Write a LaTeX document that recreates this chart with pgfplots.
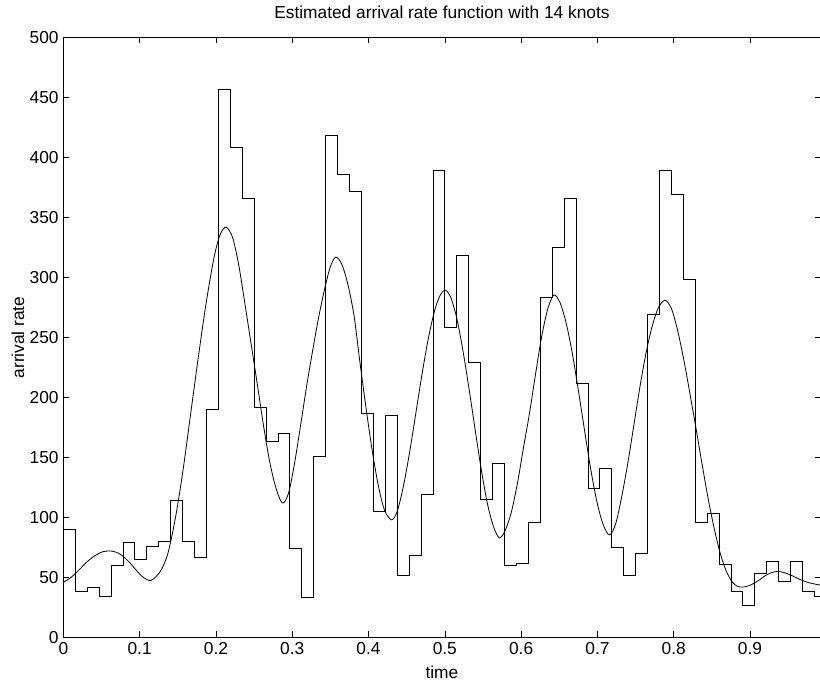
\documentclass[border=0pt]{standalone}
\usepackage{fontspec}
\setmainfont{Liberation Sans}
\usepackage{pgfplots}
\usepackage{pgfplotstable}
\pgfplotsset{compat=1.18}
\pgfplotstableread{
k y
0 90
1 38
2 42
3 34
4 60
5 79
6 65
7 76
8 80
9 114
10 80
11 67
12 190
13 457
14 408
15 366
16 192
17 163
18 170
19 74
20 33
21 151
22 418
23 386
24 372
25 187
26 105
27 185
28 52
29 68
30 119
31 389
32 258
33 318
34 229
35 115
36 145
37 60
38 62
39 96
40 283
41 325
42 366
43 212
44 124
45 141
46 75
47 52
48 70
49 269
50 389
51 369
52 298
53 96
54 103
55 61
56 38
57 27
58 53
59 63
60 47
61 63
62 38
63 34
64 34
}\bins
\begin{document}
\begin{tikzpicture}
\begin{axis}[
  at={(0,0)}, anchor=south west,
  scale only axis, width=567.9pt, height=450pt,
  xmin=0, xmax=0.9924, ymin=0, ymax=500,
  xtick={0,0.1,0.2,0.3,0.4,0.5,0.6,0.7,0.8,0.9},
  xticklabels={0,0.1,0.2,0.3,0.4,0.5,0.6,0.7,0.8,0.9},
  ytick={0,50,100,150,200,250,300,350,400,450,500},
  tick align=inside, major tick length=4.5pt,
  tick style={black, line width=0.5pt},
  axis line style={line width=0.5pt},
  /pgf/number format/assume math mode=true,
  every axis title shift=0pt,
  tick label style={font=\fontsize{13}{15.5}\selectfont},
  label style={font=\fontsize{13}{15.5}\selectfont},
  title style={font=\fontsize{13}{15.5}\selectfont, at={(axis description cs:0.5,1.0422)}, anchor=center},
  xlabel style={at={(axis description cs:0.5,-0.0578)}, anchor=center},
  ylabel style={at={(axis description cs:-0.0599,0.5)}, anchor=center},
  title={Estimated arrival rate function with 14 knots},
  xlabel={time},
  ylabel={arrival rate},
]
\addplot[const plot, black, line width=0.6pt] table[x expr=\thisrow{k}/64, y=y] {\bins};
\addplot[smooth, black, line width=0.6pt] coordinates {
(0,46) (0.010,50) (0.020,56) (0.031,63) (0.041,68) (0.052,71.5) (0.063,72)
(0.073,70) (0.083,65) (0.093,58) (0.103,51) (0.1145,47.5)
(0.127,55) (0.137,70) (0.147,100) (0.157,140) (0.167,187) (0.177,234)
(0.187,278) (0.197,315) (0.205,335) (0.2133,342)
(0.222,333) (0.230,310) (0.238,278) (0.246,245) (0.254,212) (0.262,178)
(0.270,148) (0.278,126) (0.287,112)
(0.295,120) (0.303,145) (0.311,177) (0.319,210) (0.327,240) (0.335,268)
(0.343,292) (0.350,309) (0.357,317)
(0.365,311) (0.373,294) (0.381,268) (0.389,228) (0.397,190) (0.405,155)
(0.413,126) (0.421,106) (0.4304,98)
(0.438,106) (0.446,127) (0.454,155) (0.462,187) (0.470,219) (0.478,248)
(0.486,271) (0.493,284) (0.5003,289.5)
(0.508,283) (0.516,265) (0.524,238) (0.532,206) (0.540,172) (0.548,139)
(0.556,111) (0.564,92) (0.5715,83)
(0.579,89) (0.587,104) (0.595,128) (0.603,158) (0.611,187) (0.619,220)
(0.627,251) (0.635,274) (0.643,285.4)
(0.651,279) (0.659,262) (0.667,237) (0.675,206) (0.683,173) (0.691,141)
(0.699,114) (0.707,95) (0.7157,85.4)
(0.724,95) (0.732,118) (0.740,146) (0.748,178) (0.756,210) (0.764,238)
(0.772,260) (0.780,275) (0.7886,281)
(0.797,274) (0.805,256) (0.813,232) (0.821,204) (0.829,175) (0.837,145)
(0.845,116) (0.853,91) (0.861,70) (0.869,55) (0.877,46) (0.884,42.5) (0.891,42)
(0.900,43.5) (0.910,47) (0.920,51.5) (0.928,54) (0.936,55) (0.945,54)
(0.955,51.5) (0.965,48.5) (0.975,46) (0.9924,43.5)
};
\end{axis}
\pgfresetboundingbox
\path[use as bounding box] (-47.5pt,-33.4pt) rectangle (567.5pt,478.1pt);
\end{tikzpicture}
\end{document}
